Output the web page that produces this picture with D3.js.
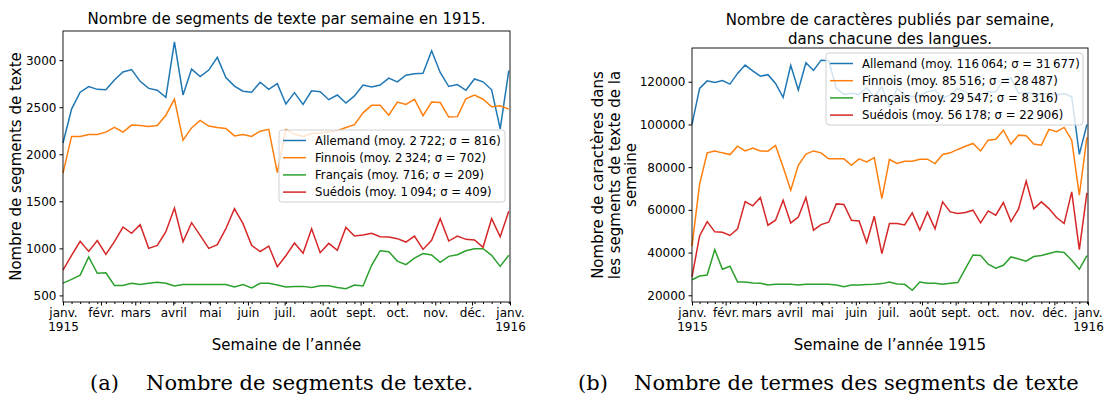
<!DOCTYPE html>
<html>
<head>
<meta charset="utf-8">
<script src="https://cdn.jsdelivr.net/npm/d3@7"></script>
<style>
  body { margin: 0; background: #fff; }
  text { font-family: "DejaVu Sans", sans-serif; fill: #000; }
  .caption { font-family: "DejaVu Serif", serif; }
</style>
</head>
<body>
<script>
// weekly data, 53 weeks of 1915
const months = ["janv.", "févr.", "mars", "avril", "mai", "juin", "juil.", "août", "sept.", "oct.", "nov.", "déc.", "janv."]
const years = ["1915", "", "", "", "", "", "", "", "", "", "", "", "1916"]
const languages = ["Allemand", "Finnois", "Français", "Suédois"]

const segAllemand = [2120, 2480, 2660, 2720, 2690, 2685, 2790, 2875, 2900, 2775, 2700, 2680, 2605, 3195, 2630, 2905, 2825, 2895, 3030, 2815, 2725, 2670, 2660, 2765, 2690, 2750, 2535, 2655, 2530, 2675, 2665, 2580, 2630, 2545, 2620, 2735, 2715, 2735, 2810, 2770, 2840, 2855, 2860, 3100, 2870, 2720, 2740, 2680, 2800, 2770, 2685, 2270, 2890]
const segFinnois = [1800, 2190, 2190, 2210, 2210, 2235, 2285, 2235, 2310, 2305, 2295, 2305, 2415, 2585, 2150, 2280, 2360, 2300, 2285, 2275, 2195, 2210, 2190, 2245, 2265, 1805, 2265, 2215, 2190, 2220, 2225, 2240, 2250, 2285, 2315, 2440, 2520, 2520, 2415, 2555, 2530, 2585, 2410, 2555, 2550, 2395, 2400, 2590, 2630, 2585, 2505, 2515, 2480]
const segFrancais = [630, 670, 715, 910, 735, 740, 605, 605, 630, 615, 630, 640, 630, 600, 615, 615, 615, 615, 615, 615, 590, 615, 580, 628, 630, 610, 590, 596, 596, 585, 603, 603, 585, 571, 610, 600, 820, 975, 965, 865, 827, 897, 944, 929, 851, 915, 933, 975, 997, 997, 926, 809, 926]
const segSuedois = [770, 926, 1075, 968, 1082, 936, 1071, 1227, 1160, 1252, 1000, 1032, 1177, 1429, 1071, 1273, 1138, 1000, 1039, 1209, 1422, 1263, 1032, 965, 1025, 805, 922, 1057, 947, 1209, 954, 1053, 979, 1223, 1131, 1142, 1160, 1124, 1120, 1103, 1067, 1131, 989, 1085, 1316, 1078, 1131, 1096, 1089, 1011, 1316, 1124, 1394]

const carAllemand = [100000, 116900, 120400, 119700, 120600, 118900, 123900, 127800, 125100, 122600, 123300, 119200, 112700, 127700, 116100, 128900, 125300, 130100, 129800, 116900, 114100, 114600, 114100, 117200, 113000, 117600, 108300, 116900, 113800, 113000, 113800, 115300, 116100, 112200, 113800, 116900, 115300, 112200, 113800, 115300, 115300, 121000, 121800, 114500, 115000, 114500, 114000, 114500, 113800, 114500, 113000, 86000, 100000]
const carFinnois = [43000, 72000, 86700, 87600, 86700, 85900, 89800, 87600, 89000, 87600, 87500, 90200, 80100, 69200, 80900, 86100, 87600, 86700, 83900, 83900, 83900, 80900, 83900, 82500, 84500, 65300, 83600, 81700, 82800, 82800, 83750, 83750, 81700, 85950, 86700, 88300, 89800, 91100, 87600, 92650, 93100, 97300, 90800, 95000, 94700, 90800, 90300, 97700, 96600, 98600, 92650, 66900, 94000]
const carFrancais = [27300, 29050, 29500, 41400, 32200, 33600, 26250, 26250, 25800, 25650, 24800, 25150, 25150, 25150, 24800, 25150, 25150, 25150, 25150, 24800, 24050, 24800, 24800, 25000, 25150, 25470, 26250, 25310, 25150, 22340, 26250, 25600, 25600, 25150, 25600, 25940, 32500, 38900, 38600, 34530, 32650, 34060, 37970, 37000, 35940, 38130, 38600, 39530, 40470, 40000, 36400, 32190, 38600]
const carSuedois = [28600, 47800, 54500, 49700, 49500, 48000, 51100, 63900, 61900, 65800, 52800, 55150, 64500, 53900, 56600, 65800, 50500, 53100, 54200, 62800, 62500, 55150, 54800, 44700, 57000, 39500, 53600, 53600, 52950, 58600, 50500, 58900, 51100, 63750, 59050, 58300, 58750, 59850, 53900, 59500, 57500, 63450, 54500, 60450, 73500, 60450, 63750, 60600, 56400, 53600, 68400, 41400, 68000]

const segLegend = ["Allemand (moy. 2\u202f722; σ = 816)", "Finnois (moy. 2\u202f324; σ = 702)", "Français (moy. 716; σ = 209)", "Suédois (moy. 1\u202f094; σ = 409)"]
const carLegend = ["Allemand (moy. 116\u202f064; σ = 31\u202f677)", "Finnois (moy. 85\u202f516; σ = 28\u202f487)", "Français (moy. 29\u202f547; σ = 8\u202f316)", "Suédois (moy. 56\u202f178; σ = 22\u202f906)"]

const segTicks = [500, 1000, 1500, 2000, 2500, 3000]
const carTicks = [20000, 40000, 60000, 80000, 100000, 120000]

const colors = ["#1f77b4", "#ff7f0e", "#2ca02c", "#d62728"]

const start = new Date(1915, 0, 1)
const weeks = d3.range(segAllemand.length).map(i => d3.timeDay.offset(start, 7 * i))
const monthDates = d3.range(months.length).map(i => new Date(1915, i, 1))

const svg = d3.select("body").append("svg")
  .attr("width", 1105)
  .attr("height", 403)

function drawPanel(o) {
  const g = svg.append("g")
  const x = d3.scaleTime()
    .domain([start, new Date(1916, 0, 1)])
    .range([o.left, o.right])
  const y = d3.scaleLinear()
    .domain(o.yDomain)
    .range([o.bottom, o.top])

  const line = d3.line()
    .x((d, i) => x(weeks[i]))
    .y(d => y(d))

  o.series.forEach((s, k) => {
    g.append("path")
      .attr("d", line(s))
      .attr("fill", "none")
      .attr("stroke", colors[k])
      .attr("stroke-width", 1.5)
  })

  // minor weekly ticks
  g.append("g")
    .attr("transform", "translate(0," + o.bottom + ")")
    .call(d3.axisBottom(x).tickValues(weeks).tickSize(2).tickFormat(""))
    .call(a => a.select(".domain").remove())

  const xa = g.append("g")
    .attr("transform", "translate(0," + o.bottom + ")")
    .call(d3.axisBottom(x).tickValues(monthDates).tickSize(3.5).tickPadding(3)
      .tickFormat((d, i) => months[i]))
  xa.select(".domain").remove()
  xa.selectAll("text")
    .style("font-size", "12px")
    .style("font-family", "DejaVu Sans")
    .each(function(d, i) {
      if (years[i]) {
        d3.select(this).append("tspan")
          .attr("x", 0).attr("dy", "1.15em").text(years[i])
      }
    })

  const ya = g.append("g")
    .attr("transform", "translate(" + o.left + ",0)")
    .call(d3.axisLeft(y).tickValues(o.yTicks).tickSize(3.5).tickPadding(3)
      .tickFormat(d3.format("d")))
  ya.select(".domain").remove()
  ya.selectAll("text")
    .style("font-size", "12px")
    .style("font-family", "DejaVu Sans")

  g.append("rect")
    .attr("x", o.left).attr("y", o.top)
    .attr("width", o.right - o.left).attr("height", o.bottom - o.top)
    .attr("fill", "none").attr("stroke", "#000").attr("stroke-width", 0.9)

  const cx = (o.left + o.right) / 2
  o.title.forEach((t, i) => {
    g.append("text").attr("x", cx).attr("y", o.titleY + i * 18.5)
      .attr("text-anchor", "middle").style("font-size", "15px").text(t)
  })
  o.ylabel.forEach((t, i) => {
    g.append("text")
      .attr("transform", "translate(" + (o.ylabelX + i * 16.5) + "," + ((o.top + o.bottom) / 2) + ") rotate(-90)")
      .attr("text-anchor", "middle").style("font-size", "15px").text(t)
  })
  g.append("text").attr("x", cx).attr("y", 350)
    .attr("text-anchor", "middle").style("font-size", "15px").text(o.xlabel)

  // legend
  const lg = g.append("g")
  lg.append("rect")
    .attr("x", o.legend.x).attr("y", o.legend.y)
    .attr("width", o.legend.w).attr("height", o.legend.h)
    .attr("rx", 3)
    .attr("fill", "#fff").attr("fill-opacity", 0.8)
    .attr("stroke", "#d0d0d0")
  o.labels.forEach((t, k) => {
    const ry = o.legend.y + 10.5 + k * 17.2
    lg.append("line")
      .attr("x1", o.legend.x + 4).attr("x2", o.legend.x + 27)
      .attr("y1", ry).attr("y2", ry)
      .attr("stroke", colors[k]).attr("stroke-width", 1.5)
    lg.append("text")
      .attr("x", o.legend.x + 36).attr("y", ry + 4.3)
      .style("font-size", "11.7px").text(t)
  })
}

drawPanel({
  left: 63, right: 510, top: 31, bottom: 302,
  yDomain: [430, 3310], yTicks: segTicks,
  series: [segAllemand, segFinnois, segFrancais, segSuedois],
  labels: segLegend,
  title: ["Nombre de segments de texte par semaine en 1915."], titleY: 24,
  ylabel: ["Nombre de segments de texte"], ylabelX: 21,
  xlabel: "Semaine de l\u2019année",
  legend: {x: 279, y: 130, w: 226, h: 72}
})

drawPanel({
  left: 692, right: 1088, top: 48, bottom: 302,
  yDomain: [16860, 135800], yTicks: carTicks,
  series: [carAllemand, carFinnois, carFrancais, carSuedois],
  labels: carLegend,
  title: ["Nombre de caractères publiés par semaine,", "dans chacune des langues."], titleY: 25,
  ylabel: ["Nombre de caractères dans", "les segments de texte de la", "semaine"], ylabelX: 603,
  xlabel: "Semaine de l\u2019année 1915",
  legend: {x: 826, y: 53, w: 257, h: 72}
})

// sub-figure captions
const captions = [["(a)", "Nombre de segments de texte.", 90, 146], ["(b)", "Nombre de termes des segments de texte", 578, 634]]
captions.forEach(c => {
  svg.append("text").attr("class", "caption").attr("x", c[2]).attr("y", 390)
    .style("font-size", "21px").text(c[0])
  svg.append("text").attr("class", "caption").attr("x", c[3]).attr("y", 390)
    .style("font-size", "21px").text(c[1])
})
</script>
</body>
</html>
